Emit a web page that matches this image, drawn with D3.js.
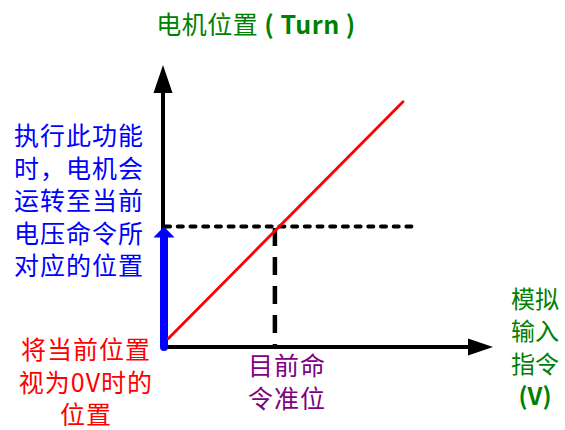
<!DOCTYPE html>
<html>
  <head>
    <meta charset="utf-8">
    <style>
    body {
      margin: 0;
      background: #fff;
    }
    text {
      font-family: "Noto Sans CJK SC", sans-serif;
    }
    </style>
  </head>
  <body>
    <script src="https://d3js.org/d3.v7.min.js"></script>
    <script>

// concept chart: analog input command (V) vs motor position (turn)
var xDomain = [0, 11];
var yDomain = [0, 10];
var motorLine = [[0.18, 0.3], [8.0, 8.7]];   // red response line
var commandPos = [3.73, 4.27];                 // current command point
var guideEndX = 8.3;                           // end of horizontal guide

var yTitle = [["电机位置 ", false], ["( Turn )", true]];
var xTitle = [[["模拟", false]], [["输入", false]], [["指令", false]], [["(V)", true]]];
var blueNote = ["执行此功能", "时，电机会", "运转至当前", "电压命令所", "对应的位置"];
var redNote = ["将当前位置", "视为0V时的", "位置"];
var cmdNote = ["目前命", "令准位"];

var width = 565, height = 430;

var svg = d3.select("body").append("svg")
    .attr("width", width)
    .attr("height", height);

var x = d3.scaleLinear().domain(xDomain).range([163, 493]);
var y = d3.scaleLinear().domain(yDomain).range([347, 65]);

var line = d3.line().x(function(d){ return x(d[0]); }).y(function(d){ return y(d[1]); });

// dashed guides
svg.append("path")
    .attr("d", line([[0.07, commandPos[1]], [guideEndX, commandPos[1]]]))
    .style("fill", "none")
    .style("stroke", "#000")
    .style("stroke-width", 4)
    .style("stroke-linecap", "round")
    .style("stroke-dasharray", "5,7.7");

svg.append("path")
    .attr("d", line([[commandPos[0], commandPos[1] - 0.05], [commandPos[0], 0]]))
    .style("fill", "none")
    .style("stroke", "#000")
    .style("stroke-width", 4.5)
    .style("stroke-dasharray", "18,11");

// axes
svg.append("path")
    .attr("d", line([[0, 0], [0, yDomain[1] - 0.9]]))
    .style("stroke", "#000")
    .style("stroke-width", 4);

svg.append("path")
    .attr("d", line([[0, 0], [xDomain[1] - 0.8, 0]]))
    .style("stroke", "#000")
    .style("stroke-width", 4)
    .style("stroke-linecap", "square");

// arrow heads
var yTip = [x(0), y(yDomain[1])];
svg.append("path")
    .attr("d", "M" + yTip[0] + "," + yTip[1] + "L" + (yTip[0] + 9.5) + "," + (yTip[1] + 28) + "L" + (yTip[0] - 9.5) + "," + (yTip[1] + 28) + "Z")
    .style("fill", "#000");

var xTip = [x(xDomain[1]), y(0)];
svg.append("path")
    .attr("d", "M" + xTip[0] + "," + xTip[1] + "L" + (xTip[0] - 25) + "," + (xTip[1] - 8.5) + "L" + (xTip[0] - 25) + "," + (xTip[1] + 8.5) + "Z")
    .style("fill", "#000");

// blue arrow along y axis up to command level
var bx = x(0) + 1, bTop = y(commandPos[1]);
svg.append("path")
    .attr("d", "M" + bx + "," + y(0) + "L" + bx + "," + (bTop + 10))
    .style("stroke", "#0000ff")
    .style("stroke-width", 8)
    .style("stroke-linecap", "round");
svg.append("path")
    .attr("d", "M" + bx + "," + bTop + "L" + (bx + 10.5) + "," + (bTop + 11) + "L" + (bx - 10.5) + "," + (bTop + 11) + "Z")
    .style("fill", "#0000ff");

// red line
svg.append("path")
    .attr("d", line(motorLine))
    .style("fill", "none")
    .style("stroke", "#ff0000")
    .style("stroke-width", 2.8)
    .style("stroke-linecap", "round");

// texts
function block(lines, cx, cy, gap, color){
  svg.append("g").selectAll("text")
      .data(lines)
    .enter().append("text")
      .attr("x", cx)
      .attr("y", function(d, i){ return cy + i * gap; })
      .attr("text-anchor", "middle")
      .attr("dominant-baseline", "central")
      .style("font-size", "25px")
      .style("letter-spacing", "1px")
      .style("fill", color)
      .text(function(d){ return d; });
}

var t = svg.append("text")
    .attr("x", 256)
    .attr("y", 23)
    .attr("text-anchor", "middle")
    .attr("dominant-baseline", "central")
    .style("font-size", "25px")
    .style("letter-spacing", "0.5px")
    .style("fill", "#008000");
t.selectAll("tspan").data(yTitle).enter().append("tspan")
    .style("font-weight", function(d){ return d[1] ? "bold" : "normal"; })
    .text(function(d){ return d[0]; });

svg.append("g").selectAll("text")
    .data(xTitle)
  .enter().append("text")
    .attr("x", 535)
    .attr("y", function(d, i){ return 297 + i * 32.5; })
    .attr("text-anchor", "middle")
    .attr("dominant-baseline", "central")
    .style("font-size", "24px")
    .style("fill", "#008000")
    .style("font-weight", function(d){ return d[0][1] ? "bold" : "normal"; })
    .text(function(d){ return d[0][0]; });

block(blueNote, 79, 134, 32.5, "#0000ff");
block(redNote, 86, 348, 32.5, "#ff0000");
block(cmdNote, 287, 364, 33, "#800080");

    </script>
  </body>
</html>
